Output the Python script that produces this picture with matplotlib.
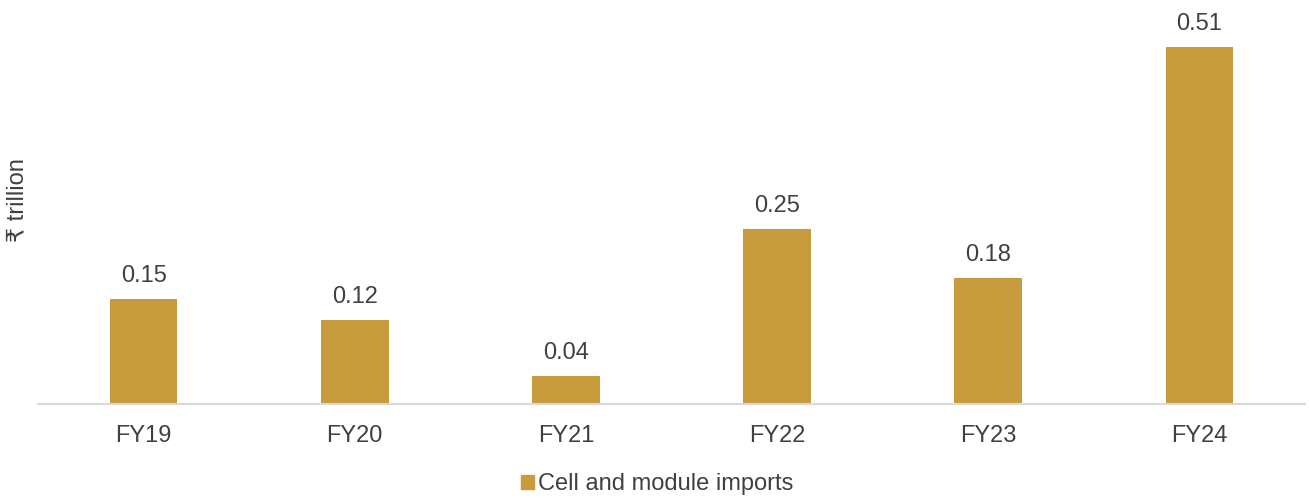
import matplotlib
matplotlib.use("Agg")
import matplotlib.pyplot as plt
from matplotlib.patches import Patch

plt.rcParams['font.family'] = ['Liberation Sans', 'DejaVu Sans']

categories = ["FY19", "FY20", "FY21", "FY22", "FY23", "FY24"]
imports = [0.15, 0.12, 0.04, 0.25, 0.18, 0.51]
series_name = "Cell and module imports"
y_label = "₹ trillion"

bar_color = "#C89B3C"
text_color = "#404040"
fs = 17

fig = plt.figure(figsize=(13.09, 4.98), dpi=100)
ax = fig.add_axes([38 / 1309, 94 / 498, 1267 / 1309, 394 / 498])

x = list(range(len(categories)))
bars = ax.bar(x, imports, width=0.32, color=bar_color)

for xi, v in zip(x, imports):
    ax.annotate(f"{v:.2f}", (xi, v), xytext=(0, 9), textcoords="offset points",
                ha="center", va="bottom", fontsize=fs, color=text_color)

ax.set_xlim(-0.5, len(categories) - 0.5)
ax.set_ylim(0, 394 / 700)
ax.set_xticks(x)
ax.set_xticklabels(categories, fontsize=fs, color=text_color)
ax.tick_params(axis="x", length=0, pad=15)
ax.set_yticks([])

for side in ("top", "right", "left"):
    ax.spines[side].set_visible(False)
ax.spines["bottom"].set_color("#D9D9D9")
ax.spines["bottom"].set_linewidth(1.5)

fig.text(18 / 1309, 1 - 200 / 498, y_label, rotation=90, ha="center", va="center",
         fontsize=fs, color=text_color)

fig.legend(handles=[Patch(color=bar_color, label=series_name)],
           loc="center", bbox_to_anchor=(657 / 1309, 1 - 484 / 498),
           frameon=False, fontsize=fs, handlelength=0.55, handleheight=0.55,
           handletextpad=0.15, labelcolor=text_color)

fig.savefig("out.png", dpi=100)
